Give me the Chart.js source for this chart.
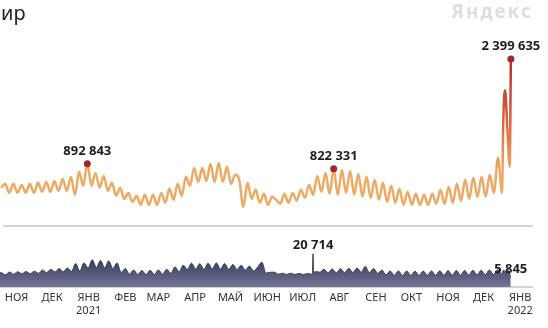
<!DOCTYPE html>
<html>
<head>
<meta charset="utf-8">
<script src="https://cdn.jsdelivr.net/npm/chart.js@4.4.1/dist/chart.umd.min.js"></script>
<style>
    html, body { margin: 0; padding: 0; background: #fff; }
    #wrap { position: relative; width: 548px; height: 328px; overflow: hidden; font-family: "Noto Sans", sans-serif; }
    #topChart { position: absolute; left: 0; top: 0; }
    #bottomChart { position: absolute; left: 0; top: 230px; }
    #title { position: absolute; left: 1px; top: 1px; font-size: 20px; line-height: 24px; color: #222; }
    #logo { position: absolute; left: 451px; top: -1px; font-size: 19px; line-height: 24px; font-weight: 700; letter-spacing: 2px; color: #dedede; }
</style>
</head>
<body>
<div id="wrap">
    <canvas id="topChart" width="548" height="230"></canvas>
    <canvas id="bottomChart" width="548" height="98"></canvas>
    <div id="title">ир</div>
    <div id="logo">Яндекс</div>
</div>
<script>
// days are counted from 18 Oct 2020; samples every half week
const firstDay = -2.5;
const stepDays = 3.5;

const monthLabels = ['НОЯ', 'ДЕК', 'ЯНВ', 'ФЕВ', 'МАР', 'АПР', 'МАЙ', 'ИЮН', 'ИЮЛ', 'АВГ', 'СЕН', 'ОКТ', 'НОЯ', 'ДЕК', 'ЯНВ'];
const monthYears = ['', '', '2021', '', '', '', '', '', '', '', '', '', '', '', '2022'];
const monthDays = [14, 44, 75, 106, 134, 165, 195, 226, 256, 287, 318, 348, 379, 409, 440];

// requests, half-week samples
const topValues = [
    548000, 606000, 476000, 606000, 476000, 591000, 476000, 606000, 476000, 620000,
    491000, 634000, 491000, 648000, 505000, 677000, 505000, 706000, 448000, 778000,
    577000, 892843, 577000, 763000, 548000, 720000, 505000, 620000, 433000, 548000,
    390000, 476000, 347000, 433000, 304000, 448000, 304000, 448000, 304000, 476000,
    333000, 534000, 376000, 606000, 433000, 706000, 577000, 835000, 634000, 835000,
    648000, 892000, 634000, 907000, 634000, 850000, 606000, 735000, 663000, 275000,
    620000, 390000, 520000, 333000, 462000, 304000, 419000, 376000, 319000, 462000,
    333000, 476000, 362000, 520000, 405000, 591000, 448000, 720000, 491000, 763000,
    462000, 822331, 448000, 806000, 476000, 792000, 448000, 749000, 419000, 706000,
    405000, 663000, 376000, 620000, 347000, 577000, 333000, 534000, 304000, 491000,
    304000, 462000, 304000, 448000, 304000, 462000, 319000, 520000, 319000, 562000,
    333000, 606000, 362000, 663000, 390000, 692000, 419000, 706000, 419000, 735000,
    476000, 978000, 476000
];
// last days, daily
const topTailDays = [425.5, 427, 429, 431, 432];
const topTailValues = [1500000, 1950000, 1400000, 850000, 2399635];
const topMarked = [892843, 822331, 2399635];

// second series, half-week samples
const bottomValues = [
    7900, 8900, 7600, 9300, 8000, 9500, 8200, 9600, 8300, 9800,
    8600, 10600, 9000, 11000, 9300, 11400, 9500, 11800, 9700, 14600,
    10000, 15000, 11800, 16900, 12200, 16500, 12000, 16200, 11500, 15000,
    9000, 11500, 8000, 10500, 7800, 10200, 7700, 10400, 7800, 10600,
    8000, 11000, 8500, 12500, 9500, 13500, 11000, 14800, 11200, 14500,
    11000, 14800, 11300, 15000, 11200, 14600, 11000, 14000, 10800, 13500,
    10500, 13000, 10000, 12500, 15400, 8600, 9200, 9200, 8000, 8600,
    7800, 8600, 7700, 8500, 7700, 8400, 8000, 9600, 9200, 11000,
    8800, 11200, 8800, 11400, 8900, 11600, 9000, 11800, 9200, 12800,
    9000, 11500, 8500, 10500, 7500, 10000, 7300, 10000, 7200, 9900,
    7200, 9800, 7200, 9900, 7300, 10000, 7300, 10100, 7300, 10200,
    7300, 10300, 7400, 10300, 7400, 10400, 7500, 10400, 7600, 10600,
    7800, 10800, 8000
];
const bottomExtraDays = [264.3, 264.8, 265.3, 426, 428, 430, 432];
const bottomExtraValues = [8400, 20714, 9000, 10600, 8800, 10500, 5845];
const bottomMarked = [20714, 5845];


const buildPoints = (values, extraDays, extraValues) => {
    const points = values.map((v, i) => ({ x: firstDay + i * stepDays, y: v }));
    extraDays.forEach((d, i) => points.push({ x: d, y: extraValues[i] }));
    return points.sort((a, b) => a.x - b.x);
};

const formatNumber = (v) => v.toLocaleString('ru-RU');

/**
 * Writes the value above every marked point.
 */
const valueLabels = {
    id: 'valueLabels',
    afterDraw(chart, args, opts) {
        const ctx = chart.ctx;
        const meta = chart.getDatasetMeta(0);
        const data = chart.data.datasets[0].data;
        ctx.save();
        ctx.font = 'bold 13px "Noto Sans"';
        ctx.fillStyle = '#1e1e1e';
        ctx.textAlign = 'center';
        ctx.textBaseline = 'middle';
        data.forEach((p, i) => {
            if (opts.marked.includes(p.y)) {
                const el = meta.data[i];
                ctx.fillText(formatNumber(p.y), el.x, el.y - opts.offset);
            }
        });
        ctx.restore();
    }
};

const topLineColor = (context) => {
    const chart = context.chart;
    if (!chart.chartArea) return '#ebab64';
    const y = chart.scales.y;
    const g = chart.ctx.createLinearGradient(0, y.getPixelForValue(800000), 0, y.getPixelForValue(2400000));
    g.addColorStop(0, '#ebab64');
    g.addColorStop(0.2, '#e58c55');
    g.addColorStop(0.45, '#d9603d');
    g.addColorStop(1, '#b32d2b');
    return g;
};

const bottomFill = (context) => {
    const chart = context.chart;
    if (!chart.chartArea) return '#55577a';
    const y = chart.scales.y;
    const g = chart.ctx.createLinearGradient(0, y.getPixelForValue(17000), 0, y.getPixelForValue(0));
    g.addColorStop(0, '#3b3c59');
    g.addColorStop(1, '#737597');
    return g;
};

const topPoints = buildPoints(topValues, topTailDays, topTailValues);
const bottomPoints = buildPoints(bottomValues, bottomExtraDays, bottomExtraValues);

new Chart(document.getElementById('topChart'), {
    type: 'line',
    data: {
        datasets: [{
            data: topPoints,
            borderColor: topLineColor,
            borderWidth: 2.5,
            cubicInterpolationMode: 'monotone',
            fill: false,
            clip: false,
            pointRadius: (c) => (c.raw && topMarked.includes(c.raw.y) ? 3.5 : 0),
            pointBackgroundColor: '#9b2a2b',
            pointBorderWidth: 0
        }]
    },
    options: {
        responsive: false,
        animation: false,
        events: [],
        layout: { padding: { top: 59, bottom: 3, left: 0, right: 16 } },
        plugins: {
            legend: { display: false },
            tooltip: { enabled: false },
            valueLabels: { marked: topMarked, offset: 12.5 }
        },
        scales: {
            x: {
                type: 'linear',
                min: 0,
                max: 450,
                ticks: { display: false },
                grid: { display: false, drawTicks: false },
                border: { display: true, color: '#d2d4d9', width: 2 },
                afterFit: (scale) => { scale.height = 0; }
            },
            y: { display: false, min: 0, max: 2400000 }
        }
    },
    plugins: [valueLabels]
});

new Chart(document.getElementById('bottomChart'), {
    type: 'line',
    data: {
        datasets: [{
            data: bottomPoints,
            borderColor: '#3d3e5b',
            borderWidth: 1,
            backgroundColor: bottomFill,
            fill: 'origin',
            cubicInterpolationMode: 'monotone',
            clip: false,
            pointRadius: 0
        }]
    },
    options: {
        responsive: false,
        animation: false,
        events: [],
        layout: { padding: { top: 16.8, bottom: 0, left: 0, right: 16 } },
        plugins: {
            legend: { display: false },
            tooltip: { enabled: false },
            valueLabels: { marked: bottomMarked, offset: 8 }
        },
        scales: {
            x: {
                type: 'linear',
                min: 0,
                max: 450,
                afterBuildTicks: (scale) => { scale.ticks = monthDays.map((d) => ({ value: d })); },
                ticks: {
                    autoSkip: false,
                    maxRotation: 0,
                    padding: 4,
                    color: '#333',
                    font: { family: 'Noto Sans', size: 11, lineHeight: 1.2 },
                    callback: (value, index) => (monthYears[index] ? [monthLabels[index], monthYears[index]] : monthLabels[index])
                },
                grid: { display: false, drawTicks: false },
                border: { display: true, color: '#d2d4d9', width: 2 },
                afterFit: (scale) => { scale.height = 41; }
            },
            y: { display: false, min: 0, max: 25000 }
        }
    },
    plugins: [valueLabels]
});
</script>
</body>
</html>
